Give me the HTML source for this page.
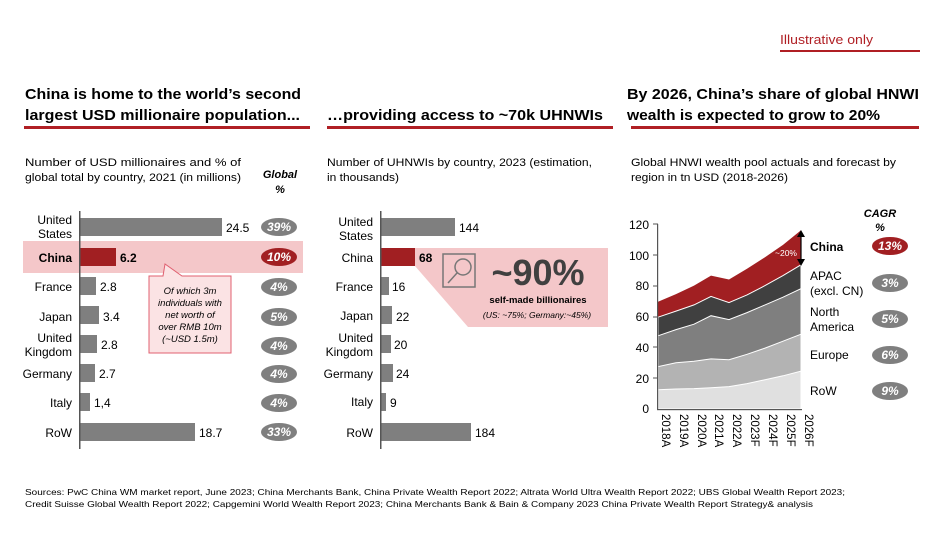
<!DOCTYPE html>
<html><head><meta charset="utf-8"><style>
html,body{margin:0;padding:0;background:#fff}
svg{display:block;font-family:"Liberation Sans",Arial,sans-serif}
</style></head><body>
<svg width="930" height="537" viewBox="0 0 930 537" xmlns="http://www.w3.org/2000/svg">
<!-- Illustrative only -->
<text x="780" y="44" font-size="13" fill="#b01f24" textLength="93" lengthAdjust="spacingAndGlyphs">Illustrative only</text>
<rect x="780" y="50" width="140" height="2" fill="#b01f24"/>

<!-- Titles -->
<g font-size="15" font-weight="bold" fill="#000">
<text x="25" y="99" textLength="276" lengthAdjust="spacingAndGlyphs">China is home to the world’s second</text>
<text x="25" y="120" textLength="275" lengthAdjust="spacingAndGlyphs">largest USD millionaire population...</text>
<text x="327" y="120" textLength="276" lengthAdjust="spacingAndGlyphs">…providing access to ~70k UHNWIs</text>
<text x="627" y="99" textLength="292" lengthAdjust="spacingAndGlyphs">By 2026, China’s share of global HNWI</text>
<text x="627" y="120" textLength="253" lengthAdjust="spacingAndGlyphs">wealth is expected to grow to 20%</text>
</g>
<rect x="24" y="126" width="286" height="3" fill="#b01f24"/>
<rect x="327" y="126" width="286" height="3" fill="#b01f24"/>
<rect x="631" y="126" width="288" height="3" fill="#b01f24"/>

<!-- Subtitles -->
<g font-size="11" fill="#000">
<text x="25" y="166" textLength="216" lengthAdjust="spacingAndGlyphs">Number of USD millionaires and % of</text>
<text x="25" y="181" textLength="216" lengthAdjust="spacingAndGlyphs">global total by country, 2021 (in millions)</text>
<text x="327" y="166" textLength="265" lengthAdjust="spacingAndGlyphs">Number of UHNWIs by country, 2023 (estimation,</text>
<text x="327" y="181" textLength="72" lengthAdjust="spacingAndGlyphs">in thousands)</text>
<text x="631" y="166" textLength="265" lengthAdjust="spacingAndGlyphs">Global HNWI wealth pool actuals and forecast by</text>
<text x="631" y="181" textLength="157" lengthAdjust="spacingAndGlyphs">region in tn USD (2018-2026)</text>
</g>
<g font-size="11" font-weight="bold" font-style="italic" text-anchor="middle">
<text x="280" y="178">Global</text><text x="280" y="193">%</text>
<text x="880" y="217">CAGR</text><text x="880" y="231">%</text>
</g>

<!-- Chart 1 -->
<rect x="23" y="241" width="280" height="32" fill="#f4c7c9"/>
<g fill="#7f7f7f">
<rect x="80" y="218" width="142" height="18"/>
<rect x="80" y="277" width="16" height="18"/>
<rect x="80" y="306" width="19" height="18"/>
<rect x="80" y="335" width="17" height="18"/>
<rect x="80" y="364" width="15" height="18"/>
<rect x="80" y="393" width="10" height="18"/>
<rect x="80" y="423" width="115" height="18"/>
</g>
<rect x="80" y="248" width="36" height="18" fill="#a11f22"/>
<rect x="79" y="211" width="1.5" height="238" fill="#555"/>
<g font-size="12" text-anchor="end" fill="#000">
<text x="72" y="224">United</text><text x="72" y="238">States</text>
<text x="72" y="262" font-weight="bold">China</text>
<text x="72" y="291">France</text>
<text x="72" y="321">Japan</text>
<text x="72" y="342">United</text><text x="72" y="356">Kingdom</text>
<text x="72" y="378">Germany</text>
<text x="72" y="407">Italy</text>
<text x="72" y="437">RoW</text>
</g>
<g font-size="12" fill="#000">
<text x="226" y="232">24.5</text>
<text x="120" y="262" font-weight="bold">6.2</text>
<text x="100" y="291">2.8</text>
<text x="103" y="321">3.4</text>
<text x="101" y="349">2.8</text>
<text x="99" y="378">2.7</text>
<text x="94" y="407">1,4</text>
<text x="199" y="437">18.7</text>
</g>
<!-- callout -->
<path d="M149 276 L163 276 L165 264 L182 276 L231 276 L231 353 L149 353 Z" fill="#fbe3e4" stroke="#e06070" stroke-width="1"/>
<g font-size="9.5" font-style="italic" text-anchor="middle" fill="#000">
<text x="190" y="294">Of which 3m</text>
<text x="190" y="306">individuals with</text>
<text x="190" y="318">net worth of</text>
<text x="190" y="330">over RMB 10m</text>
<text x="190" y="342">(~USD 1.5m)</text>
</g>
<!-- pills -->
<g>
<ellipse cx="279" cy="227" rx="18" ry="9" fill="#7f7f7f"/>
<ellipse cx="279" cy="257" rx="18" ry="9" fill="#a11f22"/>
<ellipse cx="279" cy="287" rx="18" ry="9" fill="#7f7f7f"/>
<ellipse cx="279" cy="317" rx="18" ry="9" fill="#7f7f7f"/>
<ellipse cx="279" cy="346" rx="18" ry="9" fill="#7f7f7f"/>
<ellipse cx="279" cy="374" rx="18" ry="9" fill="#7f7f7f"/>
<ellipse cx="279" cy="403" rx="18" ry="9" fill="#7f7f7f"/>
<ellipse cx="279" cy="432" rx="18" ry="9" fill="#7f7f7f"/>
</g>
<g font-size="12" font-weight="bold" font-style="italic" fill="#fff" text-anchor="middle">
<text x="279" y="231">39%</text><text x="279" y="261">10%</text><text x="279" y="291">4%</text><text x="279" y="321">5%</text>
<text x="279" y="350">4%</text><text x="279" y="378">4%</text><text x="279" y="407">4%</text><text x="279" y="436">33%</text>
</g>

<!-- Chart 2 -->
<path d="M415 248 L608 248 L608 327 L468 327 L415 266 Z" fill="#f4c7c9"/>
<g fill="#7f7f7f">
<rect x="381" y="218" width="74" height="18"/>
<rect x="381" y="277" width="8" height="18"/>
<rect x="381" y="306" width="11" height="18"/>
<rect x="381" y="335" width="10" height="18"/>
<rect x="381" y="364" width="12" height="18"/>
<rect x="381" y="393" width="5" height="18"/>
<rect x="381" y="423" width="90" height="18"/>
</g>
<rect x="381" y="248" width="34" height="18" fill="#a11f22"/>
<rect x="380" y="211" width="1.5" height="238" fill="#555"/>
<g font-size="12" text-anchor="end" fill="#000">
<text x="373" y="226">United</text><text x="373" y="240">States</text>
<text x="373" y="262">China</text>
<text x="373" y="291">France</text>
<text x="373" y="320">Japan</text>
<text x="373" y="342">United</text><text x="373" y="356">Kingdom</text>
<text x="373" y="378">Germany</text>
<text x="373" y="406">Italy</text>
<text x="373" y="437">RoW</text>
</g>
<g font-size="12" fill="#000">
<text x="459" y="232">144</text>
<text x="419" y="262" font-weight="bold">68</text>
<text x="392" y="291">16</text>
<text x="396" y="321">22</text>
<text x="394" y="349">20</text>
<text x="396" y="378">24</text>
<text x="390" y="407">9</text>
<text x="475" y="437">184</text>
</g>
<rect x="443" y="254" width="32" height="33" fill="none" stroke="#777" stroke-width="1.5"/>
<circle cx="463" cy="267" r="8" fill="none" stroke="#777" stroke-width="1.5"/>
<line x1="457" y1="273" x2="448" y2="283" stroke="#777" stroke-width="1.5"/>
<text x="538" y="285" font-size="36" font-weight="bold" fill="#404040" text-anchor="middle">~90%</text>
<text x="538" y="303" font-size="9.5" font-weight="bold" fill="#000" text-anchor="middle">self-made billionaires</text>
<text x="537" y="318" font-size="8.5" font-style="italic" fill="#000" text-anchor="middle">(US: ~75%; Germany:~45%)</text>

<!-- Chart 3 -->
<g font-size="12" fill="#000" text-anchor="end">
<text x="649" y="229">120</text><text x="649" y="260">100</text><text x="649" y="290">80</text>
<text x="649" y="321">60</text><text x="649" y="352">40</text><text x="649" y="383">20</text><text x="649" y="413">0</text>
</g>
<path d="M658 409 L658 301.8 L676 294.1 L694 285.6 L711 275.6 L729 279.5 L747 268.7 L765 257.2 L783 244.9 L801 230.3 L801 409 Z" fill="#a11f22"/>
<path d="M658 409 L658 317.2 L676 311.1 L694 304.9 L711 296.4 L729 302.6 L747 294.9 L765 285.6 L783 275.6 L801 264.8 L801 409 Z" fill="#404040" stroke="#fff" stroke-width="1"/>
<path d="M658 409 L658 335.8 L676 329.6 L694 324.2 L711 315.7 L729 319.6 L747 312.6 L765 304.9 L783 297.2 L801 288.7 L801 409 Z" fill="#7f7f7f" stroke="#fff" stroke-width="1"/>
<path d="M658 409 L658 366.6 L676 362.8 L694 361.2 L711 358.9 L729 359.7 L747 354.3 L765 348.1 L783 341.2 L801 334.2 L801 409 Z" fill="#b3b3b3" stroke="#fff" stroke-width="1"/>
<path d="M658 409 L658 389.7 L676 389 L694 388.6 L711 387.7 L729 386.6 L747 383.6 L765 379.7 L783 375.8 L801 371.2 L801 409 Z" fill="#e0e0e0" stroke="#fff" stroke-width="1"/>
<rect x="657" y="224" width="1.2" height="186" fill="#555"/>
<rect x="657" y="409" width="145" height="1.2" fill="#555"/>
<g stroke="#555" stroke-width="1">
<line x1="653" y1="224" x2="658" y2="224"/><line x1="653" y1="255" x2="658" y2="255"/><line x1="653" y1="286" x2="658" y2="286"/>
<line x1="653" y1="317" x2="658" y2="317"/><line x1="653" y1="347" x2="658" y2="347"/><line x1="653" y1="378" x2="658" y2="378"/>
</g>
<line x1="801" y1="233" x2="801" y2="263" stroke="#000" stroke-width="1.2"/>
<path d="M797 237 L801 230 L805 237 Z M797 259 L801 266 L805 259 Z" fill="#000"/>
<text x="775" y="256" font-size="8.5" fill="#fff">~20%</text>
<g font-size="11.5" fill="#000">
<g transform="translate(662,414) rotate(90)"><text>2018A</text></g>
<g transform="translate(680,414) rotate(90)"><text>2019A</text></g>
<g transform="translate(698,414) rotate(90)"><text>2020A</text></g>
<g transform="translate(715,414) rotate(90)"><text>2021A</text></g>
<g transform="translate(733,414) rotate(90)"><text>2022A</text></g>
<g transform="translate(751,414) rotate(90)"><text>2023F</text></g>
<g transform="translate(769,414) rotate(90)"><text>2024F</text></g>
<g transform="translate(787,414) rotate(90)"><text>2025F</text></g>
<g transform="translate(805,414) rotate(90)"><text>2026F</text></g>
</g>
<g font-size="12" fill="#000">
<text x="810" y="251" font-weight="bold">China</text>
<text x="810" y="280">APAC</text><text x="810" y="295">(excl. CN)</text>
<text x="810" y="316">North</text><text x="810" y="331">America</text>
<text x="810" y="359">Europe</text>
<text x="810" y="395">RoW</text>
</g>
<ellipse cx="890" cy="246" rx="18" ry="9" fill="#a11f22"/>
<ellipse cx="890" cy="283" rx="18" ry="9" fill="#7f7f7f"/>
<ellipse cx="890" cy="319" rx="18" ry="9" fill="#7f7f7f"/>
<ellipse cx="890" cy="355" rx="18" ry="9" fill="#7f7f7f"/>
<ellipse cx="890" cy="391" rx="18" ry="9" fill="#7f7f7f"/>
<g font-size="12" font-weight="bold" font-style="italic" fill="#fff" text-anchor="middle">
<text x="890" y="250">13%</text><text x="890" y="287">3%</text><text x="890" y="323">5%</text><text x="890" y="359">6%</text><text x="890" y="395">9%</text>
</g>

<!-- Sources -->
<g font-size="8.5" fill="#000">
<text x="25" y="495" textLength="820" lengthAdjust="spacingAndGlyphs">Sources: PwC China WM market report, June 2023; China Merchants Bank, China Private Wealth Report 2022; Altrata World Ultra Wealth Report 2022; UBS Global Wealth Report 2023;</text>
<text x="25" y="507" textLength="788" lengthAdjust="spacingAndGlyphs">Credit Suisse Global Wealth Report 2022; Capgemini World Wealth Report 2023; China Merchants Bank &amp; Bain &amp; Company 2023 China Private Wealth Report Strategy&amp; analysis</text>
</g>
</svg>
</body></html>
